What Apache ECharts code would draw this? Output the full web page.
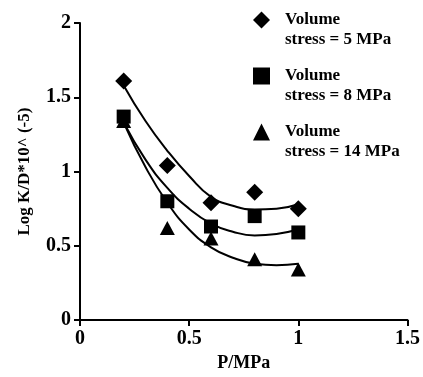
<!DOCTYPE html>
<html>
<head>
<meta charset="utf-8">
<script src="https://cdn.jsdelivr.net/npm/echarts@6/dist/echarts.min.js"></script>
<style>
  html, body { margin: 0; padding: 0; background: #fff; }
  #main { width: 423px; height: 377px; }
</style>
</head>
<body>
<div id="main"></div>
<script>
// measured points
var pressure = [0.2, 0.4, 0.6, 0.8, 1.0];
var stress5 = [1.61, 1.04, 0.79, 0.86, 0.75];
var stress8 = [1.37, 0.80, 0.63, 0.70, 0.59];
var stress14 = [1.34, 0.62, 0.55, 0.41, 0.34];

// fitted curves
var fitP = [0.2, 0.3, 0.4, 0.5, 0.6, 0.7, 0.8, 0.9, 1.0];
var fit5 = [1.58, 1.34, 1.14, 0.97, 0.83, 0.77, 0.745, 0.75, 0.78];
var fit8 = [1.33, 1.08, 0.89, 0.75, 0.65, 0.595, 0.57, 0.58, 0.61];
var fit14 = [1.33, 1.03, 0.79, 0.61, 0.49, 0.42, 0.38, 0.37, 0.38];

var names = ['Volume\nstress = 5 MPa', 'Volume\nstress = 8 MPa', 'Volume\nstress = 14 MPa'];
var xTicks = [0, 0.5, 1, 1.5];
var yTicks = [0, 0.5, 1, 1.5, 2];

function pairs(xs, ys) {
    return xs.map(function (x, i) { return [x, ys[i]]; });
}

var font = 'Liberation Serif';
var myChart = echarts.init(document.getElementById('main'));

var option = {
    animation: false,
    grid: { left: 80, right: 14, top: 23, bottom: 53 },
    legend: {
        orient: 'vertical',
        left: 253,
        top: -10,
        padding: 0,
        itemGap: -4,
        itemWidth: 17,
        itemHeight: 17,
        data: [
            { name: names[0], icon: 'diamond' },
            { name: names[1], icon: 'rect' },
            { name: names[2], icon: 'triangle' }
        ],
        // blank first line so the icon sits next to "Volume"
        formatter: function (name) { return '\n' + name; },
        textStyle: {
            fontFamily: font, fontWeight: 'bold', fontSize: 17,
            lineHeight: 20, color: '#000', padding: [0, 0, 0, 10]
        }
    },
    xAxis: {
        type: 'value',
        min: 0, max: 1.5, interval: 0.5,
        name: 'P/MPa',
        nameLocation: 'middle',
        nameGap: 30,
        nameTextStyle: { fontFamily: font, fontWeight: 'bold', fontSize: 18, color: '#000' },
        axisLine: { lineStyle: { color: '#000', width: 2 } },
        axisTick: { length: 6, lineStyle: { color: '#000', width: 2 } },
        axisLabel: {
            margin: 9, fontFamily: font, fontWeight: 'bold', fontSize: 20, color: '#000',
            formatter: function (v) { return xTicks.indexOf(v) >= 0 ? String(v) : ''; }
        },
        splitLine: { show: false }
    },
    yAxis: {
        type: 'value',
        min: 0, max: 2, interval: 0.5,
        name: 'Log K/D*10^ (-5)',
        nameLocation: 'middle',
        nameGap: 47,
        nameTextStyle: { fontFamily: font, fontWeight: 'bold', fontSize: 17, color: '#000' },
        axisLine: { show: true, lineStyle: { color: '#000', width: 2 } },
        axisTick: { show: true, length: 6, lineStyle: { color: '#000', width: 2 } },
        axisLabel: {
            margin: 9, fontFamily: font, fontWeight: 'bold', fontSize: 20, color: '#000',
            formatter: function (v) { return yTicks.indexOf(v) >= 0 ? String(v) : ''; }
        },
        splitLine: { show: false }
    },
    series: [
        {
            type: 'line', data: pairs(fitP, fit5), smooth: true, showSymbol: false,
            lineStyle: { color: '#000', width: 2 }, silent: true
        },
        {
            type: 'line', data: pairs(fitP, fit8), smooth: true, showSymbol: false,
            lineStyle: { color: '#000', width: 2 }, silent: true
        },
        {
            type: 'line', data: pairs(fitP, fit14), smooth: true, showSymbol: false,
            lineStyle: { color: '#000', width: 2 }, silent: true
        },
        {
            name: names[0], type: 'scatter', symbol: 'diamond', symbolSize: 17,
            itemStyle: { color: '#000', opacity: 1 }, data: pairs(pressure, stress5)
        },
        {
            name: names[1], type: 'scatter', symbol: 'rect', symbolSize: 14,
            itemStyle: { color: '#000', opacity: 1 }, data: pairs(pressure, stress8)
        },
        {
            name: names[2], type: 'scatter', symbol: 'triangle', symbolSize: [15, 14],
            itemStyle: { color: '#000', opacity: 1 }, data: pairs(pressure, stress14)
        }
    ]
};

myChart.setOption(option);
</script>
</body>
</html>
